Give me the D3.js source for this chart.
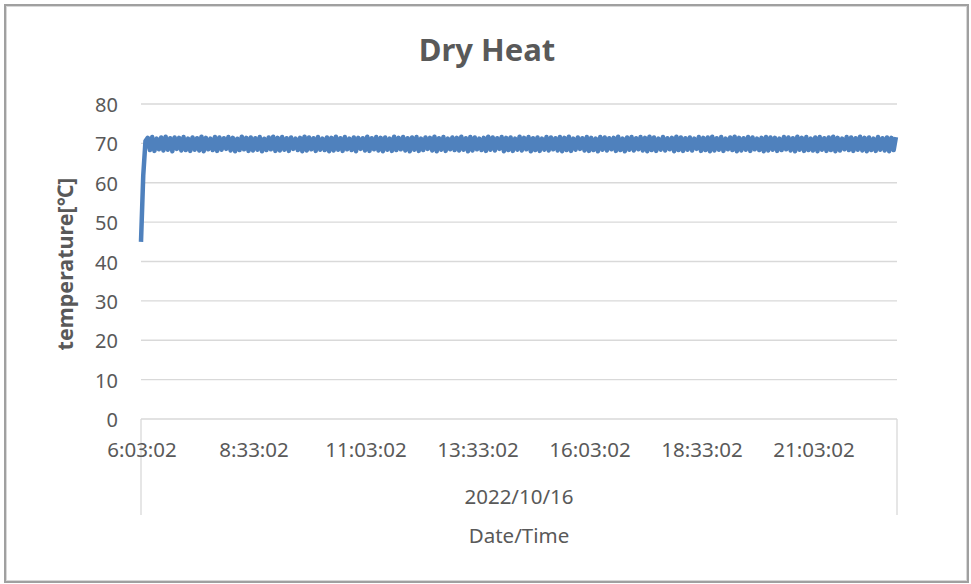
<!DOCTYPE html>
<html>
<head>
<meta charset="utf-8">
<script src="https://cdn.jsdelivr.net/npm/d3@7"></script>
<style>
  body { margin: 0; background: #fff; }
  text { font-family: "Noto Sans", "Open Sans", sans-serif; fill: #595959; }
</style>
</head>
<body>
<div id="chart"></div>
<script>
// logger settings
const startTime = '6:03:02';
const endTime = '22:55:30';
const sampleMinutes = 3;
const dateLabel = '2022/10/16';

const yTicks = [0, 10, 20, 30, 40, 50, 60, 70, 80];
const xTickLabels = ['6:03:02', '8:33:02', '11:03:02', '13:33:02', '16:03:02', '18:33:02', '21:03:02'];

// temperature readings [°C], one per sample
const temperature = [
  45.0, 61.8, 70.6,
  71.4, 68.3, 71.6, 68.1, 71.2, 68.5, 71.5, 68.2, 71.7, 68.4, 71.3, 68.0, 71.5, 68.6, 71.4, 68.2, 71.6, 68.3, 71.2, 68.1,
  71.5, 68.4, 71.3, 68.2, 71.7, 68.0, 71.4, 68.5, 71.2, 68.3, 71.6, 68.1, 71.5, 68.4, 71.3, 68.6, 71.6, 68.2, 71.4, 68.0,
  71.2, 68.3, 71.7, 68.5, 71.4, 68.1, 71.5, 68.2, 71.3, 68.4, 71.6, 68.0, 71.2, 68.3, 71.5, 68.5, 71.7, 68.1, 71.4, 68.2,
  71.6, 68.4, 71.3, 68.1, 71.5, 68.6, 71.2, 68.3, 71.4, 68.0, 71.7, 68.2, 71.5, 68.5, 71.3, 68.1, 71.6, 68.4, 71.2, 68.3,
  71.5, 68.0, 71.4, 68.2, 71.7, 68.4, 71.3, 68.1, 71.6, 68.5, 71.2, 68.3, 71.5, 68.0, 71.4, 68.6, 71.3, 68.2, 71.7, 68.1,
  71.3, 68.5, 71.6, 68.2, 71.4, 68.0, 71.5, 68.4, 71.2, 68.1, 71.7, 68.3, 71.4, 68.5, 71.6, 68.2, 71.3, 68.0, 71.5, 68.4,
  71.6, 68.1, 71.2, 68.3, 71.5, 68.6, 71.4, 68.2, 71.7, 68.0, 71.3, 68.4, 71.6, 68.1, 71.2, 68.5, 71.5, 68.3, 71.4, 68.2,
  71.7, 68.4, 71.3, 68.0, 71.6, 68.2, 71.5, 68.5, 71.2, 68.3, 71.4, 68.1, 71.7, 68.4, 71.5, 68.2, 71.3, 68.6, 71.6, 68.0,
  71.4, 68.3, 71.5, 68.1, 71.2, 68.4, 71.7, 68.2, 71.4, 68.5, 71.6, 68.0, 71.3, 68.3, 71.5, 68.1, 71.2, 68.4, 71.6, 68.2,
  71.5, 68.5, 71.3, 68.2, 71.6, 68.0, 71.4, 68.3, 71.7, 68.1, 71.2, 68.4, 71.5, 68.6, 71.3, 68.2, 71.6, 68.1, 71.4, 68.3,
  71.2, 68.0, 71.6, 68.4, 71.5, 68.2, 71.3, 68.5, 71.4, 68.1, 71.7, 68.3, 71.2, 68.0, 71.5, 68.4, 71.6, 68.2, 71.3, 68.5,
  71.6, 68.2, 71.4, 68.0, 71.7, 68.3, 71.5, 68.1, 71.2, 68.4, 71.6, 68.2, 71.3, 68.5, 71.4, 68.0, 71.7, 68.3, 71.5, 68.1,
  71.3, 68.4, 71.5, 68.2, 71.2, 68.6, 71.6, 68.1, 71.4, 68.3, 71.5, 68.0, 71.7, 68.2, 71.3, 68.4, 71.6, 68.1, 71.2, 68.5,
  71.5, 68.3, 71.7, 68.0, 71.4, 68.2, 71.3, 68.4, 71.6, 68.1, 71.5, 68.5, 71.2, 68.3, 71.4, 68.0, 71.6, 68.2, 71.5, 68.4,
  71.4, 68.1, 71.2, 68.3, 71.6, 68.5, 71.5, 68.2, 71.3, 68.0, 71.7, 68.4, 71.4, 68.1, 71.6, 68.3, 71.2, 68.2, 71.5, 68.0,
  71.6, 68.4, 71.3, 68.1, 71.5, 68.3, 71.7, 68.0, 71.4, 68.2, 71.2, 68.5, 71.6, 68.3, 71.5, 68.1, 71.3, 68.4, 71.7, 68.2,
  71.4, 68.0, 71.5, 68.3, 71.2, 68.1, 71.6, 68.4, 71.3, 68.2, 71.5, 68.0, 71.4, 68.3, 71.6
];

const width = 971;
const height = 584;
const margin = { top: 104, right: 74, bottom: 165, left: 141 };

const parseTime = d3.timeParse('%H:%M:%S');
const t0 = parseTime(startTime);

const svg = d3.select('#chart')
  .append('svg')
  .attr('width', width)
  .attr('height', height);

// outer frame
svg.append('rect')
  .attr('x', 5).attr('y', 5)
  .attr('width', 963).attr('height', 577)
  .attr('fill', 'none')
  .attr('stroke', '#a0a0a0')
  .attr('stroke-width', 2);
svg.append('rect')
  .attr('x', 6.5).attr('y', 6.5)
  .attr('width', 960).attr('height', 574)
  .attr('fill', 'none')
  .attr('stroke', '#d8d8d8')
  .attr('stroke-width', 1);

const x = d3.scaleTime()
  .domain([t0, parseTime(endTime)])
  .range([margin.left, width - margin.right]);

const y = d3.scaleLinear()
  .domain([0, 80])
  .range([height - margin.bottom, margin.top]);

// gridlines
svg.append('g')
  .selectAll('line')
  .data(yTicks)
  .enter()
  .append('line')
  .attr('x1', x.range()[0])
  .attr('x2', x.range()[1])
  .attr('y1', (d) => y(d))
  .attr('y2', (d) => y(d))
  .attr('stroke', '#d9d9d9')
  .attr('stroke-width', 1.3);

// category boundary lines under the x axis
svg.append('g')
  .selectAll('line')
  .data(x.range())
  .enter()
  .append('line')
  .attr('x1', (d) => d)
  .attr('x2', (d) => d)
  .attr('y1', y(0))
  .attr('y2', 515)
  .attr('stroke', '#d9d9d9')
  .attr('stroke-width', 1.3);

// y tick labels
svg.append('g')
  .attr('font-size', 20)
  .attr('text-anchor', 'end')
  .selectAll('text')
  .data(yTicks)
  .enter()
  .append('text')
  .attr('x', 118)
  .attr('y', (d) => y(d) + 8)
  .text((d) => d);

// x tick labels
svg.append('g')
  .attr('font-size', 20.5)
  .attr('text-anchor', 'middle')
  .selectAll('text')
  .data(xTickLabels)
  .enter()
  .append('text')
  .attr('x', (d) => x(parseTime(d)) + 1)
  .attr('y', 457)
  .text((d) => d);

svg.append('text')
  .attr('x', (x.range()[0] + x.range()[1]) / 2)
  .attr('y', 504)
  .attr('text-anchor', 'middle')
  .attr('font-size', 20.5)
  .text(dateLabel);

svg.append('text')
  .attr('x', (x.range()[0] + x.range()[1]) / 2)
  .attr('y', 543)
  .attr('text-anchor', 'middle')
  .attr('font-size', 20.5)
  .text('Date/Time');

svg.append('text')
  .attr('transform', 'translate(73,264) rotate(-90)')
  .attr('text-anchor', 'middle')
  .attr('font-size', 21.5)
  .attr('font-weight', 'bold')
  .text('temperature[℃]');

svg.append('text')
  .attr('x', 487)
  .attr('y', 61)
  .attr('text-anchor', 'middle')
  .attr('font-size', 31)
  .attr('font-weight', 'bold')
  .text('Dry Heat');

// series
const line = d3.line()
  .x((d, i) => x(d3.timeMinute.offset(t0, i * sampleMinutes)))
  .y((d) => y(d));

svg.append('path')
  .datum(temperature)
  .attr('fill', 'none')
  .attr('stroke', '#4f81bd')
  .attr('stroke-width', 4.5)
  .attr('stroke-linejoin', 'round')
  .attr('d', line);
</script>
</body>
</html>
